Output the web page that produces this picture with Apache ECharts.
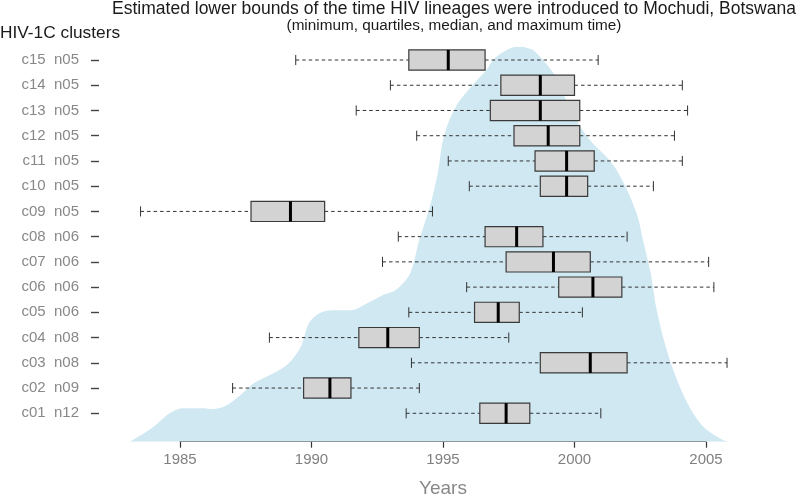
<!DOCTYPE html>
<html>
<head>
<meta charset="utf-8">
<script src="https://cdn.jsdelivr.net/npm/echarts@6/dist/echarts.min.js"></script>
<style>
  html, body { margin: 0; padding: 0; background: #fff; }
  #main { width: 800px; height: 496px; }
</style>
</head>
<body>
<div id="main"></div>
<script>
  // clusters, bottom to top
  const clusters = ['c01  n12', 'c02  n09', 'c03  n08', 'c04  n08', 'c05  n06', 'c06  n06', 'c07  n06', 'c08  n06',
    'c09  n05', 'c10  n05', 'c11  n05', 'c12  n05', 'c13  n05', 'c14  n05', 'c15  n05']
  // min, q1, median, q3, max (years)
  const minYear = [1993.6, 1987.0, 1993.8, 1988.4, 1993.7, 1995.9, 1992.7, 1993.3, 1983.5, 1996.0, 1995.2, 1994.0, 1991.7, 1993.0, 1989.4]
  const q1Year = [1996.4, 1989.7, 1998.7, 1991.8, 1996.2, 1999.4, 1997.4, 1996.6, 1987.7, 1998.7, 1998.5, 1997.7, 1996.8, 1997.2, 1993.7]
  const medYear = [1997.4, 1990.7, 2000.6, 1992.9, 1997.1, 2000.7, 1999.2, 1997.8, 1989.2, 1999.7, 1999.7, 1999.0, 1998.7, 1998.7, 1995.2]
  const q3Year = [1998.3, 1991.5, 2002.0, 1994.1, 1997.9, 2001.8, 2000.6, 1998.8, 1990.5, 2000.5, 2000.75, 2000.2, 2000.2, 2000.0, 1996.6]
  const maxYear = [2001.0, 1994.1, 2005.8, 1997.5, 2000.3, 2005.3, 2005.1, 2002.0, 1994.6, 2003.0, 2004.1, 2003.8, 2004.3, 2004.1, 2000.9]

  // density of introduction times (scaled to peak = 1)
  const densYears = [1983.1, 1984.0, 1984.6, 1985.1, 1985.8, 1986.3, 1986.8, 1987.3, 1987.8, 1988.3, 1988.8, 1989.2,
    1989.6, 1989.9, 1990.3, 1990.8, 1991.5, 1992.1, 1992.7, 1993.2, 1993.75, 1994.1, 1994.5, 1994.8, 1995.0, 1995.3,
    1995.65, 1996.3, 1996.65, 1996.9, 1997.3, 1997.8, 1997.95, 1998.4, 1998.8, 1999.2, 1999.45, 1999.8, 2000.3,
    2000.7, 2001.2, 2001.6, 2002.0, 2002.4, 2002.6, 2002.9, 2003.1, 2003.4, 2003.8, 2004.3, 2004.9, 2005.65, 2005.9]
  const densValues = [0, 0.038, 0.072, 0.085, 0.085, 0.083, 0.093, 0.118, 0.148, 0.165, 0.182, 0.203,
    0.241, 0.300, 0.325, 0.333, 0.333, 0.350, 0.371, 0.384, 0.426, 0.511, 0.595, 0.679, 0.764, 0.823,
    0.865, 0.916, 0.941, 0.966, 0.987, 1.0, 1.0, 0.992, 0.966, 0.933, 0.899, 0.848, 0.789,
    0.755, 0.722, 0.688, 0.637, 0.570, 0.511, 0.426, 0.342, 0.257, 0.173, 0.097, 0.038, 0.004, 0]

  const tickYears = [1985, 1990, 1995, 2000, 2005]

  const boxData = clusters.map((c, i) => [i, minYear[i], q1Year[i], medYear[i], q3Year[i], maxYear[i]])
  const densData = densYears.map((y, i) => [y, densValues[i]])

  const font = "'Liberation Sans', Arial, sans-serif"
  const chart = echarts.init(document.getElementById('main'))

  const renderBox = (params, api) => {
    const cat = api.value(0)
    const mn = api.coord([api.value(1), cat])
    const q1 = api.coord([api.value(2), cat])
    const md = api.coord([api.value(3), cat])
    const q3 = api.coord([api.value(4), cat])
    const mx = api.coord([api.value(5), cat])
    const band = api.size([0, 1])[1]
    const half = band * 0.4
    const cap = band * 0.2
    const y = mn[1]
    const dash = { stroke: '#333', lineWidth: 1, lineDash: [3.5, 3] }
    const solid = { stroke: '#333', lineWidth: 1 }
    return {
      type: 'group',
      children: [
        { type: 'line', shape: { x1: mn[0], y1: y, x2: q1[0], y2: y }, style: dash },
        { type: 'line', shape: { x1: q3[0], y1: y, x2: mx[0], y2: y }, style: dash },
        { type: 'line', shape: { x1: mn[0], y1: y - cap, x2: mn[0], y2: y + cap }, style: solid },
        { type: 'line', shape: { x1: mx[0], y1: y - cap, x2: mx[0], y2: y + cap }, style: solid },
        { type: 'rect', shape: { x: q1[0], y: y - half, width: q3[0] - q1[0], height: half * 2 },
          style: { fill: '#d3d3d3', stroke: '#3a3a3a', lineWidth: 1.2 } },
        { type: 'line', shape: { x1: md[0], y1: y - half, x2: md[0], y2: y + half },
          style: { stroke: '#000', lineWidth: 3 } }
      ]
    }
  }

  const option = {
    animation: false,
    backgroundColor: '#fff',
    graphic: [
      {
        type: 'text', x: 454, y: 9,
        style: {
          text: 'Estimated lower bounds of the time HIV lineages were introduced to Mochudi, Botswana',
          font: '17.5px ' + font, fill: '#1a1a1a', align: 'center', verticalAlign: 'middle'
        }
      },
      {
        type: 'text', x: 454, y: 26,
        style: {
          text: '(minimum, quartiles, median, and maximum time)',
          font: '15.3px ' + font, fill: '#1a1a1a', align: 'center', verticalAlign: 'middle'
        }
      },
      {
        type: 'text', x: 0, y: 33,
        style: {
          text: 'HIV-1C clusters',
          font: '17.3px ' + font, fill: '#1a1a1a', align: 'left', verticalAlign: 'middle'
        }
      }
    ],
    grid: [
      // density
      { left: 127.4, right: 67.7, top: 46.7, bottom: 54.3, containLabel: false, outerBoundsMode: 'none' },
      // boxplots
      { left: 127.4, right: 67.7, top: 47.4, bottom: 70.1, containLabel: false, outerBoundsMode: 'none' },
      // visible year axis
      { left: 180, right: 94, top: 46.7, bottom: 54.3, containLabel: false, outerBoundsMode: 'none' }
    ],
    xAxis: [
      { gridIndex: 0, type: 'value', min: 1983, max: 2006, show: false },
      { gridIndex: 1, type: 'value', min: 1983, max: 2006, show: false },
      {
        gridIndex: 2, type: 'value', min: tickYears[0], max: tickYears[tickYears.length - 1], interval: 5,
        name: 'Years', nameLocation: 'middle', nameGap: 38,
        nameTextStyle: { fontFamily: font, fontSize: 19, color: '#888' },
        axisLine: { show: true, lineStyle: { color: '#333', width: 1.2 } },
        axisTick: { show: true, inside: false, length: 6, lineStyle: { color: '#333', width: 1.2 } },
        axisLabel: { fontFamily: font, fontSize: 15, color: '#808080', margin: 11, formatter: (v) => String(v) },
        splitLine: { show: false }
      }
    ],
    yAxis: [
      { gridIndex: 0, type: 'value', min: 0, max: 1, show: false },
      {
        gridIndex: 1, type: 'category', data: clusters, offset: 28.4,
        axisLine: { show: false },
        axisTick: { show: true, alignWithLabel: true, length: 8, lineStyle: { color: '#444', width: 1.4 } },
        axisLabel: { fontFamily: font, fontSize: 15, color: '#888', margin: 20 },
        splitLine: { show: false }
      },
      { gridIndex: 2, type: 'value', show: false }
    ],
    series: [
      {
        name: 'density',
        type: 'line',
        xAxisIndex: 0, yAxisIndex: 0,
        data: densData,
        smooth: 0.3,
        symbol: 'none',
        lineStyle: { width: 0 },
        areaStyle: { color: '#cfe8f2', opacity: 1 },
        z: 1,
        silent: true
      },
      {
        name: 'clusters',
        type: 'custom',
        xAxisIndex: 1, yAxisIndex: 1,
        data: boxData,
        renderItem: renderBox,
        encode: { x: [1, 2, 3, 4, 5], y: 0 },
        z: 3
      }
    ]
  }

  chart.setOption(option)
</script>
</body>
</html>
